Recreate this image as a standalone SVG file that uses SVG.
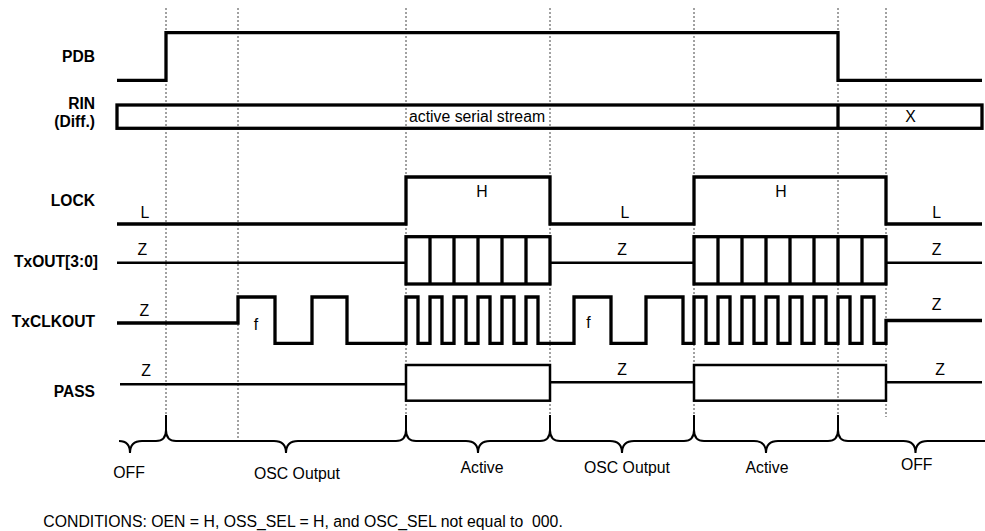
<svg xmlns="http://www.w3.org/2000/svg" width="985" height="531" viewBox="0 0 985 531">
<style>
.sig{fill:none;stroke:#000;stroke-width:3.3;stroke-linejoin:miter}
.thin{fill:none;stroke:#000;stroke-width:2.5}
.dot{fill:none;stroke:#444;stroke-width:1;stroke-dasharray:2 2}
.brace{fill:none;stroke:#000;stroke-width:2}
.lbl{font-family:"Liberation Sans",Arial,sans-serif;font-size:15.6px;font-weight:bold;text-anchor:end;fill:#000}
.t{font-family:"Liberation Sans",Arial,sans-serif;font-size:15.8px;text-anchor:middle;fill:#000}
</style>
<rect width="985" height="531" fill="#fff"/>
<g id="gridlines">
<path class="dot" d="M166,8V415M238,8V441M406,8V415M550,8V415M694,8V415M838,8V415M886,8V417"/>
</g>
<g id="labels">
<text class="lbl" x="95" y="62.3">PDB</text>
<text class="lbl" x="95" y="109">RIN</text>
<text class="lbl" x="95" y="127">(Diff.)</text>
<text class="lbl" x="95" y="206">LOCK</text>
<text class="lbl" x="98" y="266.7">TxOUT[3:0]</text>
<text class="lbl" x="95" y="326.7">TxCLKOUT</text>
<text class="lbl" x="95" y="397.3">PASS</text>
</g>
<g id="PDB">
<path class="sig" d="M117,80.3H166V32.7H838V80.3H982"/>
</g>
<g id="RIN">
<rect class="sig" x="117" y="105" width="865" height="23.3"/>
<path class="sig" d="M838,105V128.3"/>
<text class="t" x="409" y="121.7" style="text-anchor:start">active serial stream</text>
<text class="t" x="910.4" y="121.7">X</text>
</g>
<g id="LOCK">
<path class="sig" d="M117,224H406V177H550V224H694V177H886V224H982"/>
<text class="t" x="145" y="217.7">L</text>
<text class="t" x="625" y="217.7">L</text>
<text class="t" x="936.7" y="217.7">L</text>
<text class="t" x="482" y="197">H</text>
<text class="t" x="781" y="197">H</text>
</g>
<g id="TxOUT">
<path class="thin" d="M117,262.7H406M550,262.7H694M886,262.7H982"/>
<rect class="sig" x="406" y="236.7" width="144" height="47.3"/>
<path class="sig" d="M430,236.7V284M454,236.7V284M478,236.7V284M502,236.7V284M526,236.7V284"/>
<rect class="sig" x="694" y="236.7" width="192" height="47.3"/>
<path class="sig" d="M718,236.7V284M742,236.7V284M766,236.7V284M790,236.7V284M814,236.7V284M838,236.7V284M862,236.7V284"/>
<text class="t" x="142.3" y="255">Z</text>
<text class="t" x="622" y="255">Z</text>
<text class="t" x="936.7" y="255">Z</text>
</g>
<g id="TxCLKOUT">
<path class="sig" d="M117,323H238V297H275V343.3H312V297H347V343.3H406
V297H418V343.3H430V297H442V343.3H454V297H466V343.3H478V297H490V343.3H502V297H514V343.3H526V297H538V343.3
H574V297H611V343.3H646V297H683V343.3H694
V297H706V343.3H718V297H730V343.3H742V297H754V343.3H766V297H778V343.3H790V297H802V343.3H814V297H826V343.3H838V297H850V343.3H862V297H874V343.3H886V320.5H982"/>
<text class="t" x="144.3" y="316">Z</text>
<text class="t" x="936.7" y="310">Z</text>
<text class="t" x="256" y="330">f</text>
<text class="t" x="588.5" y="328">f</text>
</g>
<g id="PASS">
<path class="thin" d="M120,384.3H406M550,382.3H694M886,382.3H982"/>
<rect class="thin" x="406" y="365" width="144" height="35.7"/>
<rect class="thin" x="694" y="365" width="192" height="35.7"/>
<text class="t" x="146" y="376">Z</text>
<text class="t" x="622" y="375">Z</text>
<text class="t" x="940" y="375">Z</text>
</g>
<g id="phases">
<path class="brace" d="M119,441Q130,441 130,453Q130,441 142,441H156Q166,441 166,430V415M166,430Q166,441 176,441
H274Q286,441 286,453Q286,441 298,441H396Q406,441 406,430V415M406,430Q406,441 416,441
H466Q478,441 478,453Q478,441 490,441H540Q550,441 550,430V415M550,430Q550,441 560,441
H610Q622,441 622,453Q622,441 634,441H684Q694,441 694,430V415M694,430Q694,441 704,441
H754Q766,441 766,453Q766,441 778,441H828Q838,441 838,430V415M838,430Q838,441 848,441
H903.5Q915.5,441 915.5,453Q915.5,441 927.5,441H985"/>
<text class="t" x="129" y="478">OFF</text>
<text class="t" x="297" y="479">OSC Output</text>
<text class="t" x="482" y="472.7">Active</text>
<text class="t" x="627" y="472.7">OSC Output</text>
<text class="t" x="767" y="472.7">Active</text>
<text class="t" x="916.7" y="470">OFF</text>
</g>
<text class="t" x="43.3" y="527.3" xml:space="preserve" style="text-anchor:start;white-space:pre">CONDITIONS: OEN = H, OSS_SEL = H, and OSC_SEL not equal to  000.</text>
</svg>
